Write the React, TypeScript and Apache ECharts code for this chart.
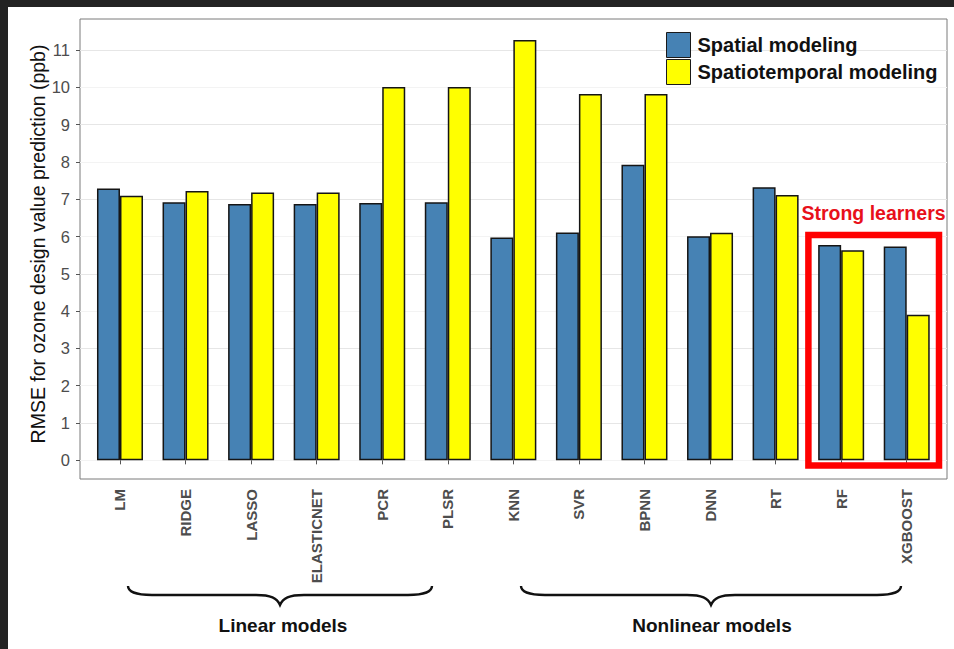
import React, { useEffect, useRef } from "react";
import * as echarts from "echarts";

// Model names along the x axis
const categories = [
  "LM", "RIDGE", "LASSO", "ELASTICNET", "PCR", "PLSR",
  "KNN", "SVR", "BPNN", "DNN", "RT", "RF", "XGBOOST",
];

// RMSE (ppb) per model
const spatial = [7.29, 6.92, 6.87, 6.87, 6.90, 6.92, 5.97, 6.11, 7.92, 6.01, 7.32, 5.77, 5.73];
const spatiotemporal = [7.09, 7.22, 7.18, 7.18, 10.01, 10.01, 11.27, 9.82, 9.82, 6.10, 7.11, 5.63, 3.90];

// Y axis: labelled ticks and the half-step grid
const yTickValues = [0, 1, 2, 3, 4, 5, 6, 7, 8, 9, 10, 11];
const yMin = -0.5;
const yMax = 11.83;
const yStep = 0.5;

const seriesNames = ["Spatial modeling", "Spatiotemporal modeling"];
const groupLabels = ["Linear models", "Nonlinear models"];
const highlightLabel = "Strong learners";

const FONT = "'Liberation Sans', Arial, Helvetica, sans-serif";

function bracePath(x0: number, x1: number, yTop: number, yMid: number, yTip: number) {
  const m = (x0 + x1) / 2;
  return (
    `M${x0} ${yTop} C${x0} ${yMid - 4} ${x0 + 7} ${yMid} ${x0 + 24} ${yMid} ` +
    `L${m - 24} ${yMid} C${m - 9} ${yMid} ${m - 3} ${yMid + 3} ${m} ${yTip} ` +
    `C${m + 3} ${yMid + 3} ${m + 9} ${yMid} ${m + 24} ${yMid} ` +
    `L${x1 - 24} ${yMid} C${x1 - 7} ${yMid} ${x1} ${yMid - 4} ${x1} ${yTop}`
  );
}

echarts.graphic.registerShape(
  "braceLinear",
  echarts.graphic.extendPath(bracePath(128, 432, 586, 595, 605), {})
);
echarts.graphic.registerShape(
  "braceNonlinear",
  echarts.graphic.extendPath(bracePath(521, 901, 586, 595, 605), {})
);

export default function App() {
  const ref = useRef<HTMLDivElement>(null);

  useEffect(() => {
    if (!ref.current) return;
    const chart = echarts.init(ref.current, null, { renderer: "svg" });

    const barStyle = (color: string) => ({
      color,
      borderColor: "#151515",
      borderWidth: 1.5,
    });

    chart.setOption({
      animation: false,
      backgroundColor: "#ffffff",
      textStyle: { fontFamily: FONT },
      grid: [
        // panel with border, grid lines and y labels
        {
          left: 80, right: 7, top: 19, bottom: 170,
          show: true, borderColor: "#7a7a7a", borderWidth: 1,
          backgroundColor: "transparent",
        },
        // bars, inset so the category bands have a small outer margin
        { left: 87.2, right: 14.5, top: 19, bottom: 170 },
      ],
      xAxis: [
        { gridIndex: 0, type: "value", min: 0, max: 1, show: false },
        {
          gridIndex: 1,
          type: "category",
          data: categories,
          axisLine: { show: false },
          axisTick: { show: true, alignWithLabel: true, length: 4, lineStyle: { color: "#555", width: 1 } },
          axisLabel: {
            rotate: 90,
            margin: 10,
            interval: 0,
            fontSize: 15,
            fontWeight: "bold",
            color: "#4d4d4d",
            fontFamily: FONT,
          },
          splitLine: { show: false },
        },
      ],
      yAxis: [
        {
          gridIndex: 0,
          type: "value",
          min: yMin,
          max: yMax,
          interval: yStep,
          axisLine: { show: false },
          axisTick: { show: true, length: 4, customValues: yTickValues, lineStyle: { color: "#555" } },
          axisLabel: {
            margin: 10,
            fontSize: 16.5,
            color: "#4d4d4d",
            fontFamily: FONT,
            formatter: (v: number) => (yTickValues.includes(v) ? String(v) : ""),
          },
          splitLine: { show: true, lineStyle: { color: ["#f3f3f3", "#e6e6e6"], width: 1 } },
          name: "RMSE for ozone design value prediction (ppb)",
          nameLocation: "middle",
          nameGap: 32,
          nameMoveOverlap: false,
          nameTextStyle: { fontSize: 19.5, color: "#111", fontFamily: FONT, padding: [0, 0, 0, 10] },
        },
        { gridIndex: 1, type: "value", min: yMin, max: yMax, show: false },
      ],
      legend: {
        orient: "vertical",
        left: 666,
        top: 32,
        padding: 0,
        itemWidth: 24,
        itemHeight: 25,
        itemGap: 1,
        icon: "rect",
        itemStyle: { borderColor: "#1a1a1a", borderWidth: 1 },
        textStyle: { fontSize: 20, fontWeight: "bold", color: "#111", fontFamily: FONT, padding: [0, 0, 0, 2] },
        data: seriesNames,
      },
      series: [
        {
          name: seriesNames[0],
          type: "bar",
          xAxisIndex: 1,
          yAxisIndex: 1,
          data: spatial,
          barWidth: 23,
          barGap: "0%",
          itemStyle: barStyle("#4682b4"),
        },
        {
          name: seriesNames[1],
          type: "bar",
          xAxisIndex: 1,
          yAxisIndex: 1,
          data: spatiotemporal,
          barWidth: 23,
          barGap: "0%",
          itemStyle: barStyle("#ffff00"),
        },
      ],
      graphic: [
        // dark frame on the top and left edges
        { type: "rect", shape: { x: 0, y: 0, width: 954, height: 7 }, style: { fill: "#232323" }, z: 100 },
        { type: "rect", shape: { x: 0, y: 0, width: 8, height: 649 }, style: { fill: "#232323" }, z: 100 },
        // highlight box around the ensemble learners
        {
          type: "rect",
          shape: { x: 808.4, y: 235, width: 130.6, height: 230.4 },
          style: { fill: "none", stroke: "#ff0000", lineWidth: 6.5 },
          z: 50,
        },
        {
          type: "text",
          x: 873.5,
          y: 213,
          style: {
            text: highlightLabel,
            fill: "#e8101a",
            font: `bold 19.5px ${FONT}`,
            textAlign: "center",
            textVerticalAlign: "middle",
          },
          z: 50,
        },
        // group braces under the axis labels
        { type: "braceLinear", x: 0, y: 0, style: { fill: "none", stroke: "#111", lineWidth: 2.4 } },
        { type: "braceNonlinear", x: 0, y: 0, style: { fill: "none", stroke: "#111", lineWidth: 2.4 } },
        {
          type: "text",
          x: 283,
          y: 625,
          style: {
            text: groupLabels[0],
            fill: "#111",
            font: `bold 19px ${FONT}`,
            textAlign: "center",
            textVerticalAlign: "middle",
          },
        },
        {
          type: "text",
          x: 712,
          y: 625,
          style: {
            text: groupLabels[1],
            fill: "#111",
            font: `bold 19px ${FONT}`,
            textAlign: "center",
            textVerticalAlign: "middle",
          },
        },
      ],
    });

    return () => chart.dispose();
  }, []);

  return (
    <div
      ref={ref}
      style={{ position: "fixed", left: 0, top: 0, width: 954, height: 649, background: "#fff" }}
    />
  );
}
